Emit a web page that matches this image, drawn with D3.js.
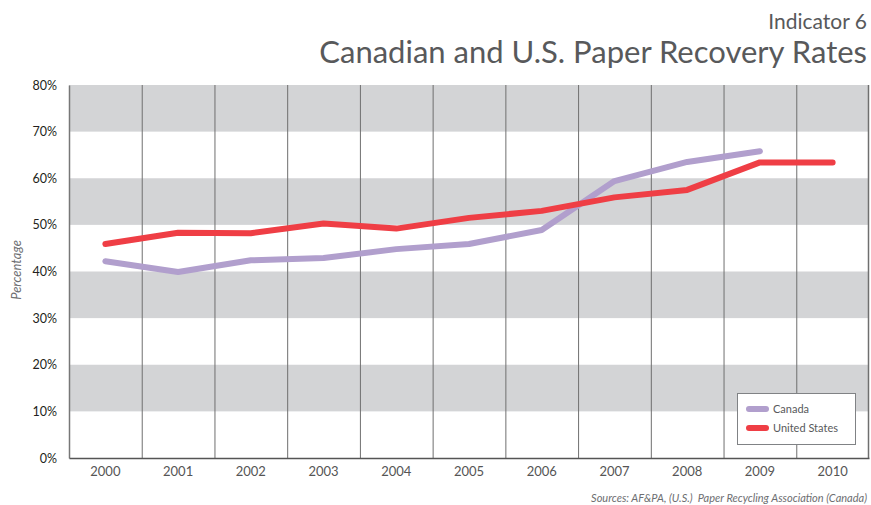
<!DOCTYPE html>
<html><head><meta charset="utf-8">
<script src="https://cdn.jsdelivr.net/npm/d3@7"></script>
<style>body{margin:0;background:#fff}svg{display:block}</style>
</head><body>
<svg id="chart" width="871" height="505"></svg>
<script>
const years = ["2000","2001","2002","2003","2004","2005","2006","2007","2008","2009","2010"];
const canada = [42.2, 39.9, 42.4, 42.9, 44.8, 45.9, 48.9, 59.4, 63.5, 65.8, null];
const unitedStates = [45.9, 48.3, 48.2, 50.3, 49.2, 51.5, 53.0, 55.9, 57.5, 63.4, 63.4];
const yTicks = [0, 10, 20, 30, 40, 50, 60, 70, 80];
const bands = [[70,80],[50,60],[30,40],[10,20]];
const seriesNames = ["Canada", "United States"];
const colors = ["#b19fcd", "#ef3e45"];

const svg = d3.select("#chart");
const font = "'Lato', 'Open Sans', sans-serif";
const L = 69, R = 869, T = 85, B = 458;
const x = d3.scaleBand().domain(years).range([L, R]);
const y = d3.scaleLinear().domain([0, 80]).range([B, T]);

// bands
svg.append("g").selectAll("rect").data(bands).join("rect")
  .attr("x", L).attr("width", R - L)
  .attr("y", d => y(d[1])).attr("height", d => y(d[0]) - y(d[1]))
  .attr("fill", "#d3d4d6");

// vertical grid lines
svg.append("g").selectAll("line").data(years.slice(1)).join("line")
  .attr("x1", d => x(d) + 0.5).attr("x2", d => x(d) + 0.5)
  .attr("y1", T).attr("y2", B)
  .attr("stroke", "#6f6f6f").attr("stroke-width", 1);
svg.append("line").attr("x1", R - 0.5).attr("x2", R - 0.5).attr("y1", T).attr("y2", B)
  .attr("stroke", "#6f6f6f").attr("stroke-width", 1.5);

// axes
const yAxis = svg.append("g").attr("transform", `translate(${L},0)`)
  .call(d3.axisLeft(y).tickValues(yTicks).tickFormat(d => d + "%").tickSize(0).tickPadding(12));
yAxis.select(".domain").attr("stroke", "#777").attr("stroke-width", 1.5);
yAxis.selectAll("text").attr("font-family", font).attr("font-size", 12.5).attr("fill", "#231f20");

const xAxis = svg.append("g").attr("transform", `translate(0,${B})`)
  .call(d3.axisBottom(x).tickSize(0).tickPadding(9));
xAxis.select(".domain").attr("stroke", "#555").attr("stroke-width", 1.5);
xAxis.selectAll("text").attr("font-family", font).attr("font-size", 13).attr("fill", "#555");

// lines
const line = d3.line().defined(d => d != null)
  .x((d, i) => x(years[i]) + x.bandwidth() / 2).y(d => y(d));
[canada, unitedStates].forEach((s, i) => {
  svg.append("path").datum(s).attr("d", line)
    .attr("fill", "none").attr("stroke", colors[i]).attr("stroke-width", 6)
    .attr("stroke-linecap", "round").attr("stroke-linejoin", "round");
});

// y label
svg.append("text").attr("transform", "translate(21,270) rotate(-90)")
  .attr("text-anchor", "middle").attr("font-family", font).attr("font-size", 13)
  .attr("font-style", "italic").attr("fill", "#6d6e71")
  .text("Percentage");

// title
svg.append("text").attr("x", 867).attr("y", 29).attr("text-anchor", "end")
  .attr("font-family", font).attr("font-size", 21).attr("fill", "#58595b").text("Indicator 6");
svg.append("text").attr("x", 867).attr("y", 63).attr("text-anchor", "end")
  .attr("font-family", font).attr("font-size", 31).attr("fill", "#58595b")
  .text("Canadian and U.S. Paper Recovery Rates");

// legend
const lg = svg.append("g").attr("transform", "translate(737,393)");
lg.append("rect").attr("x", 0.5).attr("y", 0.5).attr("width", 118).attr("height", 51)
  .attr("fill", "#fff").attr("stroke", "#808285").attr("stroke-width", 1);
seriesNames.forEach((n, i) => {
  const yy = 16 + i * 19;
  lg.append("line").attr("x1", 12).attr("x2", 29).attr("y1", yy).attr("y2", yy)
    .attr("stroke", colors[i]).attr("stroke-width", 6).attr("stroke-linecap", "round");
  lg.append("text").attr("x", 36).attr("y", yy + 4).attr("font-family", font)
    .attr("font-size", 11).attr("fill", "#58595b").text(n);
});

// source
svg.append("text").attr("x", 867).attr("y", 502).attr("text-anchor", "end")
  .attr("font-family", font).attr("font-size", 11).attr("font-style", "italic").attr("fill", "#6d6e71")
  .style("white-space", "pre")
  .text("Sources: AF&PA, (U.S.)  Paper Recycling Association (Canada)");
</script>
</body></html>
